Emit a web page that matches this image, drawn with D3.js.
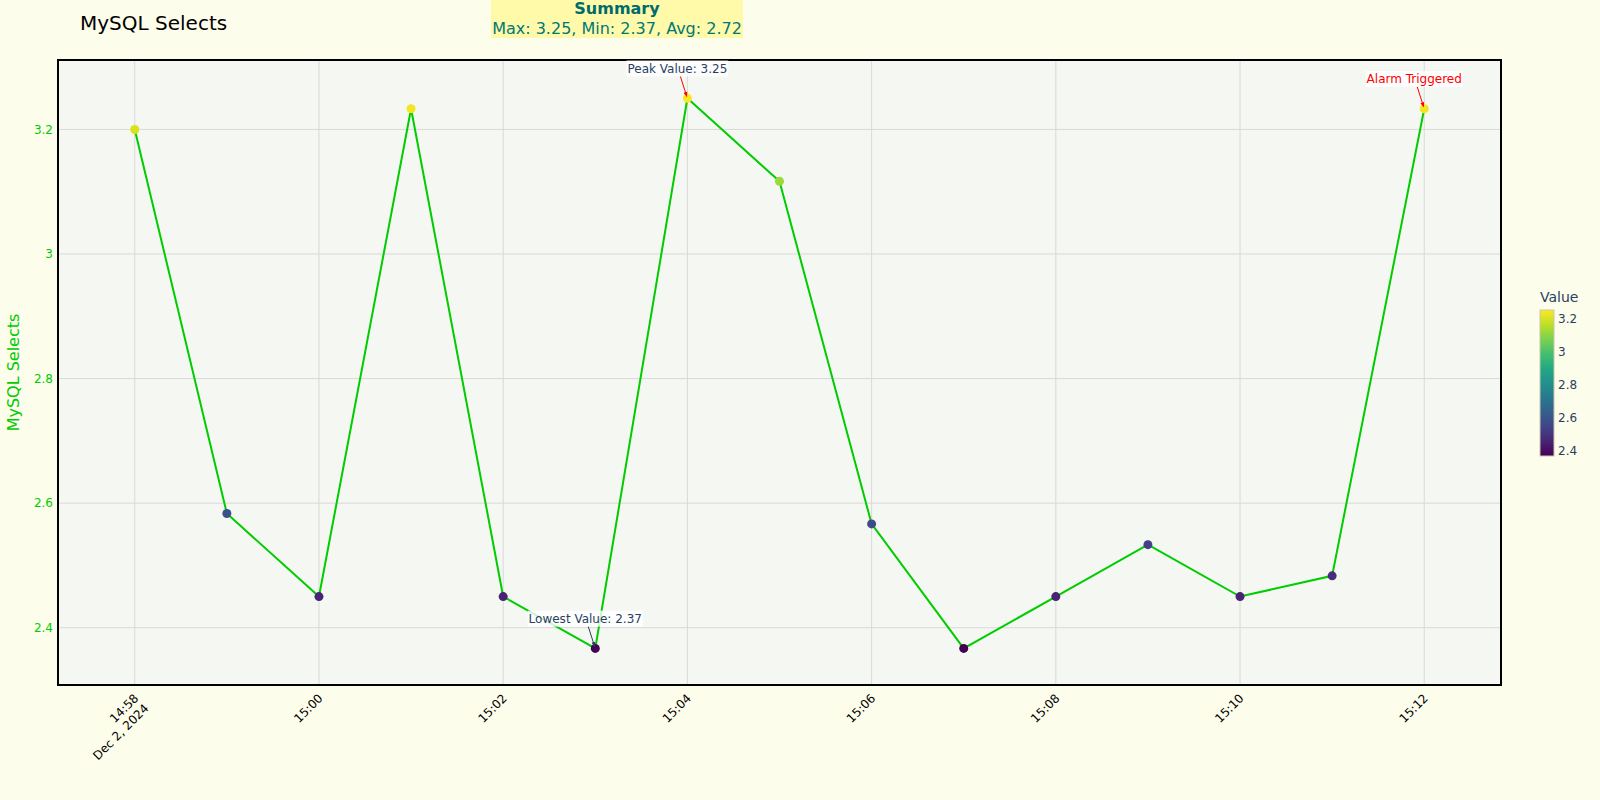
<!DOCTYPE html>
<html>
<head>
<meta charset="utf-8">
<script src="https://cdn.jsdelivr.net/npm/d3@7"></script>
<style>
  html, body { margin: 0; padding: 0; background: #fdfdec; }
  svg { display: block; font-family: "DejaVu Sans", sans-serif; }
</style>
</head>
<body>
<svg id="chart" width="1600" height="800"></svg>
<script>
// ---- data ----
const times = ["14:58","14:59","15:00","15:01","15:02","15:03","15:04","15:05","15:06","15:07","15:08","15:09","15:10","15:11","15:12"];
const values = [3.2, 2.5833, 2.45, 3.2333, 2.45, 2.3667, 3.25, 3.1167, 2.5667, 2.3667, 2.45, 2.5333, 2.45, 2.4833, 3.2333];
const yTicks = [2.4, 2.6, 2.8, 3.0, 3.2];
const xTickTimes = ["14:58","15:00","15:02","15:04","15:06","15:08","15:10","15:12"];
const colorbarTicks = [2.4, 2.6, 2.8, 3.0, 3.2];
const annotations = [
  {time: "15:04", value: 3.25, text: "Peak Value: 3.25", color: "#2a3f5f", arrow: "red"},
  {time: "15:03", value: 2.3667, text: "Lowest Value: 2.37", color: "#2a3f5f", arrow: "#2a3f5f"},
  {time: "15:12", value: 3.2333, text: "Alarm Triggered", color: "red", arrow: "red"}
];
const titleText = "MySQL Selects";
const yTitle = "MySQL Selects";
const summaryTitle = "Summary";
const summaryText = "Max: 3.25, Min: 2.37, Avg: 2.72";
const colorbarTitle = "Value";

// ---- setup ----
const parse = t => { const [h, m] = t.split(":").map(Number); return new Date(2024, 11, 2, h, m, 0); };
const data = times.map((t, i) => ({t: parse(t), v: values[i]}));

const svg = d3.select("#chart");
const W = 1600, H = 800;
const plot = {left: 58, right: 1501, top: 60, bottom: 685};

svg.append("rect").attr("width", W).attr("height", H).attr("fill", "#fdfdec");

const x = d3.scaleTime()
  .domain([new Date(2024, 11, 2, 14, 57, 10), new Date(2024, 11, 2, 15, 12, 50)])
  .range([plot.left, plot.right]);
const y = d3.scaleLinear().domain([2.308, 3.3115]).range([plot.bottom, plot.top]);

const vmin = d3.min(values), vmax = d3.max(values);
const color = v => d3.interpolateViridis((v - vmin) / (vmax - vmin));

// plot background
svg.append("rect").attr("x", plot.left).attr("y", plot.top)
  .attr("width", plot.right - plot.left).attr("height", plot.bottom - plot.top)
  .attr("fill", "#f5f7f2");

// grid
const grid = svg.append("g");
grid.selectAll("line.v").data(xTickTimes.map(parse)).enter().append("line")
  .attr("x1", d => x(d)).attr("x2", d => x(d))
  .attr("y1", plot.top).attr("y2", plot.bottom)
  .attr("stroke", "#d9d9d9").attr("stroke-width", 1);
grid.selectAll("line.h").data(yTicks).enter().append("line")
  .attr("y1", d => y(d)).attr("y2", d => y(d))
  .attr("x1", plot.left).attr("x2", plot.right)
  .attr("stroke", "#d9d9d9").attr("stroke-width", 1);

// y axis
const yAxis = d3.axisLeft(y).tickValues(yTicks).tickSize(0).tickPadding(4)
  .tickFormat(d => d3.format("~g")(d));
const yg = svg.append("g").attr("transform", `translate(${plot.left - 1},0)`).call(yAxis);
yg.select(".domain").remove();
yg.selectAll("text").attr("fill", "#00cc00").style("font-size", "12px").style("font-family", "DejaVu Sans");

// x axis
const xAxis = d3.axisBottom(x).tickValues(xTickTimes.map(parse)).tickSize(0).tickFormat(d3.timeFormat("%H:%M"));
const xg = svg.append("g").attr("transform", `translate(0,${plot.bottom})`).call(xAxis);
xg.select(".domain").remove();
xg.selectAll(".tick text").remove();
xg.selectAll(".tick").each(function(d, i) {
  const t = d3.select(this).append("text")
    .attr("transform", "translate(1,11) rotate(-45)")
    .attr("text-anchor", "end")
    .attr("fill", "#000")
    .style("font-size", "12px").style("font-family", "DejaVu Sans");
  t.append("tspan").attr("x", 0).attr("dy", "0.35em").text(d3.timeFormat("%H:%M")(d));
  if (i === 0) t.append("tspan").attr("x", 0).attr("dy", "1.2em").text(d3.timeFormat("%b %-d, %Y")(d));
});

// line
const line = d3.line().x(d => x(d.t)).y(d => y(d.v));
svg.append("path").datum(data).attr("d", line)
  .attr("fill", "none").attr("stroke", "#00cc00").attr("stroke-width", 2);

// markers
svg.append("g").selectAll("circle").data(data).enter().append("circle")
  .attr("cx", d => x(d.t)).attr("cy", d => y(d.v)).attr("r", 4.5)
  .attr("fill", d => color(d.v));

// plot border
svg.append("rect").attr("x", plot.left).attr("y", plot.top)
  .attr("width", plot.right - plot.left).attr("height", plot.bottom - plot.top)
  .attr("fill", "none").attr("stroke", "#000").attr("stroke-width", 2);

// annotations
const defs = svg.append("defs");
annotations.forEach((a, i) => {
  const id = "arrow" + i;
  defs.append("marker").attr("id", id).attr("viewBox", "0 0 10 10")
    .attr("refX", 9).attr("refY", 5).attr("markerWidth", 5).attr("markerHeight", 5)
    .attr("orient", "auto")
    .append("path").attr("d", "M0,1 L10,5 L0,9 Z").attr("fill", a.arrow);
  const px = x(parse(a.time)), py = y(a.value);
  const tx = px - 10, ty = py - 30;
  const g = svg.append("g");
  const txt = g.append("text").attr("x", tx).attr("y", ty).attr("dy", "0.35em")
    .attr("text-anchor", "middle").attr("fill", a.color)
    .style("font-size", "12px").style("font-family", "DejaVu Sans").text(a.text);
  const bb = txt.node().getBBox();
  g.insert("rect", "text").attr("x", bb.x - 1).attr("y", bb.y - 1)
    .attr("width", bb.width + 2).attr("height", bb.height + 2)
    .attr("fill", "rgba(255,255,255,0.8)");
  const sx = tx + 3, sy = bb.y + bb.height + 1;
  const dx = px - sx, dy = py - sy, len = Math.hypot(dx, dy);
  const ex = px - dx / len * 2, ey = py - dy / len * 2;
  svg.append("line").attr("x1", sx).attr("y1", sy).attr("x2", ex).attr("y2", ey)
    .attr("stroke", a.arrow).attr("stroke-width", 1).attr("marker-end", `url(#${id})`);
});

// title
svg.append("text").attr("x", 80).attr("y", 30).attr("fill", "#000")
  .style("font-size", "20px").style("font-family", "DejaVu Sans").text(titleText);

// y title
svg.append("text").attr("transform", `translate(19,${(plot.top + plot.bottom) / 2}) rotate(-90)`)
  .attr("text-anchor", "middle").attr("fill", "#00cc00")
  .style("font-size", "16px").style("font-family", "DejaVu Sans").text(yTitle);

// summary box
svg.append("rect").attr("x", 491).attr("y", -2).attr("width", 252).attr("height", 40).attr("fill", "#fffaaa");
svg.append("text").attr("x", 617).attr("y", 14).attr("text-anchor", "middle").attr("fill", "#006b6b")
  .style("font-size", "16px").style("font-weight", "bold").style("font-family", "DejaVu Sans").text(summaryTitle);
svg.append("text").attr("x", 617).attr("y", 34).attr("text-anchor", "middle").attr("fill", "#007777")
  .style("font-size", "16px").style("font-family", "DejaVu Sans").text(summaryText);

// colorbar
const cb = {x: 1540, w: 14, top: 310, bottom: 456};
const grad = defs.append("linearGradient").attr("id", "vir").attr("x1", 0).attr("x2", 0).attr("y1", 1).attr("y2", 0);
d3.range(0, 1.0001, 0.1).forEach(s => grad.append("stop").attr("offset", s).attr("stop-color", d3.interpolateViridis(s)));
svg.append("rect").attr("x", cb.x).attr("y", cb.top).attr("width", cb.w).attr("height", cb.bottom - cb.top)
  .attr("fill", "url(#vir)").attr("stroke", "#c8c8a8").attr("stroke-width", 1);
const cy = d3.scaleLinear().domain([vmin, vmax]).range([cb.bottom, cb.top]);
const cAxis = d3.axisRight(cy).tickValues(colorbarTicks).tickSize(0).tickPadding(4).tickFormat(d => d3.format("~g")(d));
const cg = svg.append("g").attr("transform", `translate(${cb.x + cb.w},0)`).call(cAxis);
cg.select(".domain").remove();
cg.selectAll("text").attr("fill", "#2a3f5f").style("font-size", "12px").style("font-family", "DejaVu Sans");
svg.append("text").attr("x", cb.x).attr("y", 302).attr("fill", "#2a3f5f")
  .style("font-size", "14px").style("font-family", "DejaVu Sans").text(colorbarTitle);
</script>
</body>
</html>
